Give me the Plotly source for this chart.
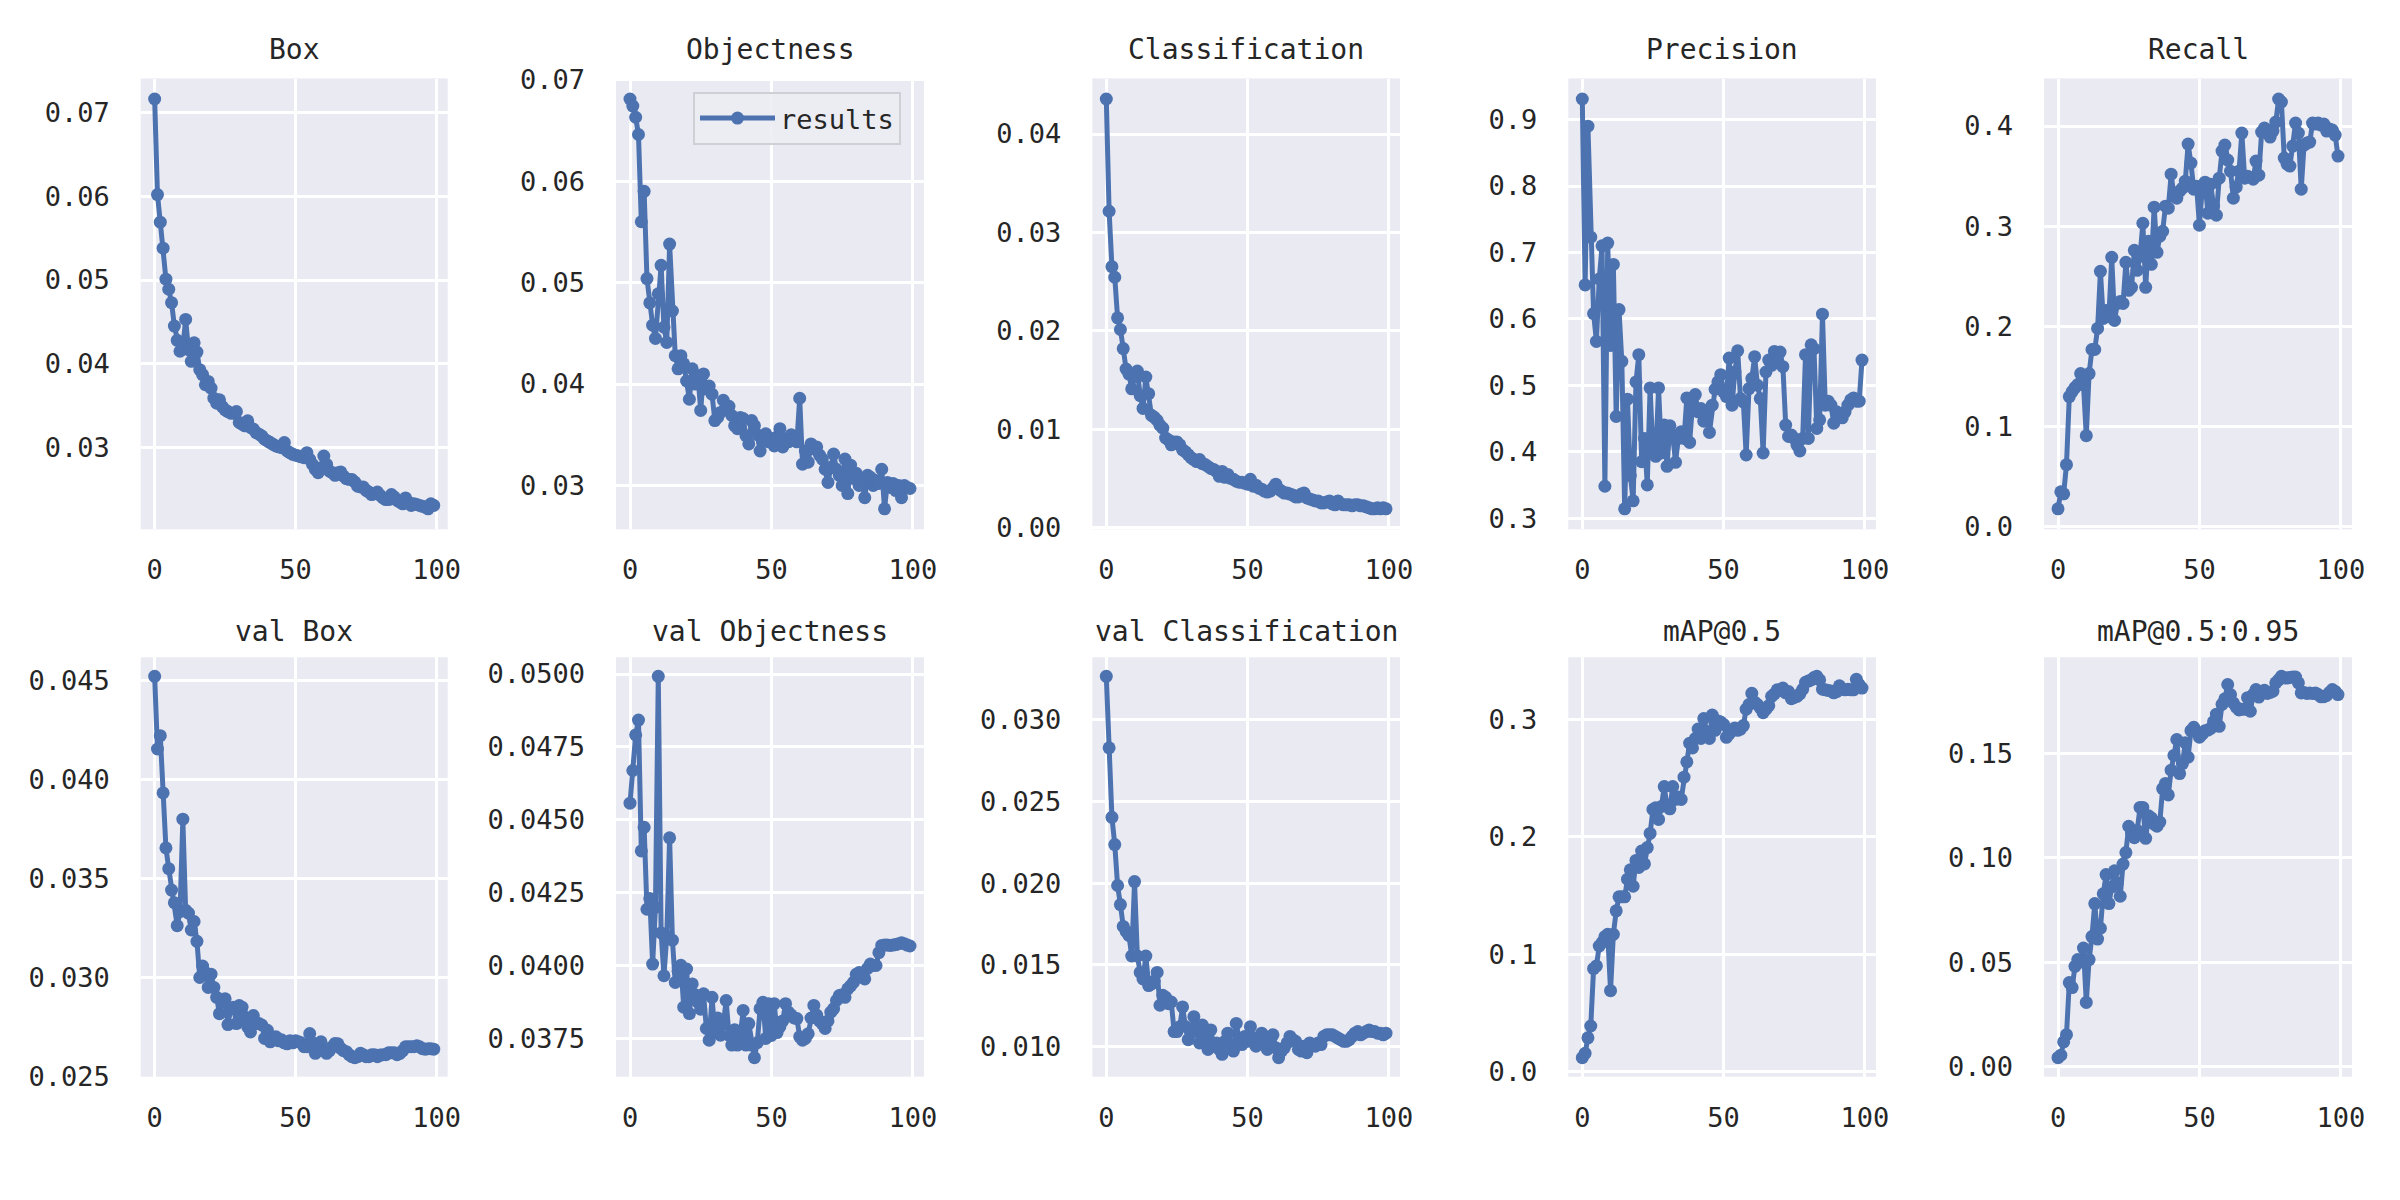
import plotly.graph_objects as go
from plotly.subplots import make_subplots

epochs = list(range(100))

box = [0.0716, 0.0602, 0.0569, 0.0538, 0.0501, 0.0489, 0.0473, 0.0445, 0.0428, 0.0415,
       0.0420, 0.0453, 0.0417, 0.0403, 0.0425, 0.0414, 0.0393, 0.0387, 0.0375, 0.0379,
       0.0371, 0.0359, 0.0353, 0.0357, 0.0349, 0.0345, 0.0343, 0.0341, 0.0341, 0.0343,
       0.0330, 0.0328, 0.0326, 0.0332, 0.0324, 0.0322, 0.0318, 0.0316, 0.0314, 0.0310,
       0.0308, 0.0306, 0.0304, 0.0302, 0.0301, 0.0300, 0.0306, 0.0296, 0.0294, 0.0292,
       0.0291, 0.0290, 0.0289, 0.0288, 0.0294, 0.0286, 0.0280, 0.0274, 0.0270, 0.0276,
       0.0290, 0.0280, 0.0272, 0.0270, 0.0267, 0.0270, 0.0271, 0.0266, 0.0263, 0.0262,
       0.0262, 0.0259, 0.0254, 0.0253, 0.0253, 0.0249, 0.0247, 0.0244, 0.0245, 0.0247,
       0.0243, 0.0240, 0.0238, 0.0238, 0.0244, 0.0241, 0.0237, 0.0235, 0.0233, 0.0240,
       0.0235, 0.0231, 0.0233, 0.0232, 0.0231, 0.0230, 0.0229, 0.0227, 0.0233, 0.0231]

objectness = [0.0681, 0.0674, 0.0663, 0.0646, 0.0560, 0.0590, 0.0504, 0.0480, 0.0458, 0.0445,
              0.0489, 0.0517, 0.0456, 0.0441, 0.0538, 0.0472, 0.0428, 0.0415, 0.0428, 0.0420,
              0.0403, 0.0385, 0.0415, 0.0400, 0.0408, 0.0374, 0.0410, 0.0395, 0.0398, 0.0390,
              0.0364, 0.0367, 0.0372, 0.0384, 0.0376, 0.0378, 0.0369, 0.0359, 0.0356, 0.0367,
              0.0366, 0.0349, 0.0341, 0.0364, 0.0359, 0.0350, 0.0334, 0.0346, 0.0351, 0.0343,
              0.0346, 0.0339, 0.0348, 0.0356, 0.0338, 0.0346, 0.0343, 0.0350, 0.0346, 0.0343,
              0.0386, 0.0321, 0.0334, 0.0323, 0.0341, 0.0336, 0.0338, 0.0330, 0.0326, 0.0316,
              0.0303, 0.0318, 0.0331, 0.0316, 0.0310, 0.0300, 0.0326, 0.0292, 0.0320, 0.0307,
              0.0312, 0.0300, 0.0306, 0.0288, 0.0310, 0.0308, 0.0300, 0.0305, 0.0302, 0.0316,
              0.0277, 0.0303, 0.0298, 0.0302, 0.0295, 0.0300, 0.0288, 0.0300, 0.0298, 0.0297]

classification = [0.04356, 0.03215, 0.02651, 0.02544, 0.02131, 0.02013, 0.01819, 0.01611, 0.0156, 0.0141,
                  0.0153, 0.0159, 0.0134, 0.0121, 0.0153, 0.0136, 0.0114, 0.0112, 0.0109, 0.0104,
                  0.0101, 0.0091, 0.0089, 0.0084, 0.0087, 0.0087, 0.0084, 0.0079, 0.0077, 0.0074,
                  0.0071, 0.0069, 0.0067, 0.0069, 0.0065, 0.0064, 0.0062, 0.0060, 0.0059, 0.0057,
                  0.0052, 0.0057, 0.0051, 0.0054, 0.0050, 0.0049, 0.0047, 0.0046, 0.0046, 0.0045,
                  0.0044, 0.0049, 0.0042, 0.0043, 0.0040, 0.0039, 0.0037, 0.0036, 0.0037, 0.0040,
                  0.0044, 0.0039, 0.0037, 0.0035, 0.0035, 0.0034, 0.0033, 0.0031, 0.0031, 0.0034,
                  0.0035, 0.0030, 0.0029, 0.0028, 0.0027, 0.0027, 0.0025, 0.0025, 0.0026, 0.0027,
                  0.0024, 0.0023, 0.0027, 0.0024, 0.0023, 0.0023, 0.0023, 0.0022, 0.0023, 0.0023,
                  0.0022, 0.0022, 0.0021, 0.0020, 0.0019, 0.0019, 0.0020, 0.0019, 0.0020, 0.0019]

precision = [0.931, 0.651, 0.890, 0.723, 0.608, 0.566, 0.660, 0.710, 0.348, 0.714,
             0.560, 0.682, 0.453, 0.614, 0.536, 0.314, 0.479, 0.364, 0.326, 0.505,
             0.546, 0.385, 0.420, 0.350, 0.496, 0.400, 0.393, 0.496, 0.398, 0.440,
             0.378, 0.439, 0.425, 0.384, 0.420, 0.430, 0.420, 0.481, 0.414, 0.470,
             0.486, 0.460, 0.465, 0.446, 0.460, 0.429, 0.470, 0.494, 0.505, 0.516,
             0.490, 0.483, 0.541, 0.470, 0.520, 0.552, 0.480, 0.475, 0.395, 0.495,
             0.510, 0.543, 0.500, 0.480, 0.398, 0.520, 0.538, 0.530, 0.551, 0.535,
             0.550, 0.528, 0.440, 0.423, 0.425, 0.420, 0.410, 0.401, 0.420, 0.546,
             0.420, 0.561, 0.555, 0.435, 0.448, 0.607, 0.470, 0.476, 0.470, 0.443,
             0.460, 0.455, 0.451, 0.460, 0.470, 0.478, 0.481, 0.476, 0.476, 0.538]

recall = [0.018, 0.035, 0.033, 0.062, 0.130, 0.135, 0.139, 0.142, 0.153, 0.142,
          0.091, 0.153, 0.177, 0.177, 0.198, 0.255, 0.208, 0.216, 0.210, 0.269,
          0.206, 0.223, 0.225, 0.223, 0.264, 0.236, 0.239, 0.276, 0.256, 0.270,
          0.303, 0.239, 0.285, 0.262, 0.319, 0.274, 0.290, 0.295, 0.320, 0.318,
          0.352, 0.330, 0.328, 0.335, 0.338, 0.345, 0.382, 0.363, 0.337, 0.340,
          0.301, 0.337, 0.344, 0.313, 0.342, 0.320, 0.311, 0.348, 0.375, 0.381,
          0.366, 0.355, 0.328, 0.339, 0.355, 0.393, 0.348, 0.350, 0.349, 0.347,
          0.365, 0.351, 0.394, 0.398, 0.396, 0.389, 0.395, 0.404, 0.427, 0.424,
          0.368, 0.362, 0.360, 0.380, 0.403, 0.393, 0.337, 0.381, 0.383, 0.384,
          0.403, 0.402, 0.403, 0.401, 0.402, 0.395, 0.397, 0.396, 0.391, 0.370]

val_box = [0.04522, 0.04155, 0.04222, 0.03933, 0.03655, 0.0355, 0.03442, 0.03378, 0.03262, 0.03333,
           0.0380, 0.0334, 0.03325, 0.0324, 0.03283, 0.03183, 0.0300, 0.03058, 0.03025, 0.0295,
           0.03017, 0.0295, 0.0290, 0.02817, 0.02875, 0.02892, 0.02762, 0.02842, 0.0285, 0.02767,
           0.02858, 0.0285, 0.0280, 0.0275, 0.02725, 0.02808, 0.02767, 0.02767, 0.0276, 0.02692,
           0.02733, 0.02675, 0.0269, 0.0270, 0.0268, 0.02685, 0.0267, 0.02665, 0.0268, 0.0267,
           0.0268, 0.02675, 0.0267, 0.0265, 0.0265, 0.02717, 0.0267, 0.02617, 0.0264, 0.02675,
           0.0263, 0.02617, 0.0263, 0.0265, 0.02667, 0.02665, 0.02642, 0.0263, 0.02625, 0.0261,
           0.0260, 0.02595, 0.0260, 0.02617, 0.0261, 0.0260, 0.0260, 0.0261, 0.0261, 0.0260,
           0.02608, 0.0261, 0.0261, 0.0262, 0.0262, 0.0262, 0.0261, 0.02617, 0.0263, 0.0265,
           0.0265, 0.0265, 0.0265, 0.02655, 0.0265, 0.0264, 0.02638, 0.0264, 0.0264, 0.02638]

val_objectness = [0.04557, 0.04669, 0.04791, 0.04842, 0.04393, 0.04474, 0.04193, 0.0423, 0.04005, 0.0420,
                  0.04992, 0.04112, 0.03965, 0.0410, 0.04438, 0.04087, 0.03942, 0.0398, 0.04001, 0.03857,
                  0.03988, 0.03835, 0.03937, 0.0390, 0.03874, 0.0385, 0.03903, 0.03784, 0.03744, 0.03891,
                  0.03773, 0.0382, 0.03761, 0.0380, 0.0388, 0.0376, 0.03727, 0.0378, 0.03727, 0.0376,
                  0.03846, 0.03727, 0.03801, 0.03727, 0.03684, 0.03735, 0.03852, 0.03874, 0.0375, 0.03869,
                  0.0376, 0.03869, 0.0377, 0.0379, 0.0381, 0.03869, 0.0384, 0.0383, 0.0382, 0.03818,
                  0.03756, 0.03744, 0.0375, 0.03766, 0.0382, 0.03863, 0.0383, 0.0381, 0.0380, 0.03784,
                  0.0381, 0.0384, 0.03852, 0.0388, 0.03897, 0.0390, 0.03891, 0.0392, 0.0393, 0.03942,
                  0.0397, 0.03976, 0.0396, 0.03954, 0.0399, 0.04005, 0.0400, 0.0400, 0.04044, 0.04069,
                  0.0407, 0.0407, 0.04069, 0.0407, 0.04072, 0.04075, 0.04078, 0.04075, 0.0407, 0.04067]

val_classification = [0.03267, 0.02829, 0.02403, 0.02236, 0.01985, 0.01868, 0.01734, 0.01704, 0.0168, 0.01553,
                      0.02009, 0.01553, 0.01452, 0.01412, 0.01553, 0.01372, 0.01382, 0.0140, 0.01452, 0.01251,
                      0.01312, 0.0130, 0.01261, 0.01271, 0.0109, 0.0109, 0.0112, 0.01241, 0.01121, 0.0104,
                      0.0108, 0.01181, 0.0112, 0.0102, 0.0113, 0.0108, 0.0098, 0.0110, 0.0100, 0.0102,
                      0.0098, 0.0095, 0.0103, 0.0108, 0.0101, 0.0097, 0.0114, 0.0104, 0.0101, 0.0106,
                      0.0103, 0.0112, 0.0105, 0.0100, 0.0104, 0.0108, 0.0103, 0.0098, 0.0102, 0.0107,
                      0.0099, 0.0093, 0.0097, 0.0099, 0.0102, 0.0106, 0.0104, 0.0103, 0.0098, 0.0097,
                      0.0100, 0.0096, 0.0102, 0.0101, 0.0100, 0.0102, 0.0101, 0.0106, 0.0107, 0.0107,
                      0.0107, 0.0106, 0.0105, 0.0104, 0.0103, 0.0103, 0.0104, 0.0106, 0.0108, 0.0109,
                      0.0107, 0.0108, 0.0109, 0.0110, 0.0109, 0.0109, 0.0108, 0.0108, 0.0107, 0.0108]

map50 = [0.0118, 0.0155, 0.0287, 0.0388, 0.0877, 0.0900, 0.1070, 0.1100, 0.1150, 0.1170,
         0.0689, 0.1170, 0.1370, 0.1490, 0.1490, 0.1490, 0.1640, 0.1720, 0.1580, 0.1800,
         0.1740, 0.1880, 0.1770, 0.1910, 0.2030, 0.2235, 0.2250, 0.2150, 0.2260, 0.2430,
         0.2260, 0.2240, 0.2430, 0.2320, 0.2340, 0.2320, 0.2510, 0.2640, 0.2800, 0.2760,
         0.2840, 0.2920, 0.2840, 0.3010, 0.2900, 0.2840, 0.3040, 0.2910, 0.2990, 0.2980,
         0.2960, 0.2850, 0.2880, 0.2910, 0.2930, 0.2910, 0.2920, 0.2950, 0.3090, 0.3130,
         0.3225, 0.3150, 0.3130, 0.3100, 0.3060, 0.3090, 0.3120, 0.3200, 0.3220, 0.3255,
         0.3250, 0.3270, 0.3230, 0.3240, 0.3180, 0.3190, 0.3200, 0.3220, 0.3260, 0.3320,
         0.3330, 0.3340, 0.3360, 0.3370, 0.3340, 0.3260, 0.3255, 0.3250, 0.3245, 0.3230,
         0.3240, 0.3290, 0.3260, 0.3255, 0.3260, 0.3255, 0.3255, 0.3345, 0.3300, 0.3270]

map50_95 = [0.0043, 0.0055, 0.0118, 0.0153, 0.0402, 0.0378, 0.0480, 0.0512, 0.0500, 0.0567,
            0.0307, 0.0512, 0.0622, 0.0780, 0.0610, 0.0662, 0.0827, 0.0919, 0.0780, 0.0860,
            0.0937, 0.0880, 0.0815, 0.0969, 0.1024, 0.1150, 0.1120, 0.1095, 0.1130, 0.1240,
            0.1240, 0.1092, 0.1200, 0.1190, 0.1160, 0.1150, 0.1170, 0.1330, 0.1355, 0.1300,
            0.1418, 0.1489, 0.1565, 0.1402, 0.1450, 0.1550, 0.1480, 0.1607, 0.1623, 0.1600,
            0.1576, 0.1590, 0.1607, 0.1610, 0.1618, 0.1650, 0.1686, 0.1628, 0.1733, 0.1760,
            0.1828, 0.1780, 0.1740, 0.1720, 0.1706, 0.1710, 0.1710, 0.1765, 0.1700, 0.1780,
            0.1804, 0.1768, 0.1790, 0.1800, 0.1785, 0.1790, 0.1796, 0.1836, 0.1850, 0.1867,
            0.1860, 0.1859, 0.1862, 0.1864, 0.1864, 0.1836, 0.1788, 0.1790, 0.1785, 0.1788,
            0.1785, 0.1788, 0.1780, 0.1769, 0.1770, 0.1776, 0.1790, 0.1804, 0.1795, 0.1780]

titles = ["Box", "Objectness", "Classification", "Precision", "Recall",
          "val Box", "val Objectness", "val Classification", "mAP@0.5", "mAP@0.5:0.95"]
series = [box, objectness, classification, precision, recall,
          val_box, val_objectness, val_classification, map50, map50_95]
y_ticks = [[0.03, 0.04, 0.05, 0.06, 0.07],
           [0.03, 0.04, 0.05, 0.06, 0.07],
           [0.00, 0.01, 0.02, 0.03, 0.04],
           [0.3, 0.4, 0.5, 0.6, 0.7, 0.8, 0.9],
           [0.0, 0.1, 0.2, 0.3, 0.4],
           [0.025, 0.030, 0.035, 0.040, 0.045],
           [0.0375, 0.0400, 0.0425, 0.0450, 0.0475, 0.0500],
           [0.010, 0.015, 0.020, 0.025, 0.030],
           [0.0, 0.1, 0.2, 0.3],
           [0.00, 0.05, 0.10, 0.15]]
y_fmt = [".2f", ".2f", ".2f", ".1f", ".1f", ".3f", ".4f", ".3f", ".1f", ".2f"]
x_ticks = [0, 50, 100]

W, H = 2400, 1200
col_px = [(140.7, 447.7), (616, 924), (1092.3, 1400), (1568.3, 1876), (2044, 2352)]
row_px = [(78.5, 529.3), (657.3, 1076.7)]
title_y_px = [50, 631]

BLUE = "#4C72B0"
TXT = "#262626"
FONT = "DejaVu Sans Mono"

fig = make_subplots(rows=2, cols=5)

for i, (name, ys) in enumerate(zip(titles, series)):
    r, c = divmod(i, 5)
    fig.add_trace(go.Scatter(
        x=epochs, y=ys, mode="lines+markers", name="results",
        line=dict(color=BLUE, width=5),
        marker=dict(color=BLUE, size=13),
        showlegend=(i == 1)), row=r + 1, col=c + 1)

    lo, hi = min(ys), max(ys)
    pad = (hi - lo) * 0.05
    n = i + 1
    xa = "xaxis" if n == 1 else f"xaxis{n}"
    ya = "yaxis" if n == 1 else f"yaxis{n}"
    x0, x1 = col_px[c]
    y0, y1 = row_px[r]
    fig.layout[xa].update(
        domain=[x0 / W, x1 / W], range=[-4.95, 103.95],
        tickvals=x_ticks, ticktext=[str(t) for t in x_ticks],
        showgrid=True, gridcolor="white", gridwidth=2.5, zeroline=False,
        showline=False, ticks="", ticklabelstandoff=22, automargin=False,
        tickfont=dict(family=FONT, size=27, color=TXT))
    fig.layout[ya].update(
        domain=[1 - y1 / H, 1 - y0 / H], range=[lo - pad, hi + pad],
        tickvals=y_ticks[i], ticktext=[format(t, y_fmt[i]) for t in y_ticks[i]],
        showgrid=True, gridcolor="white", gridwidth=2.5, zeroline=False,
        showline=False, ticks="", ticklabelstandoff=30, automargin=False,
        tickfont=dict(family=FONT, size=27, color=TXT))
    fig.add_annotation(
        text=name, xref="paper", yref="paper",
        x=(x0 + x1) / 2 / W, y=1 - title_y_px[r] / H,
        xanchor="center", yanchor="middle", showarrow=False,
        font=dict(family=FONT, size=28, color=TXT))

fig.update_layout(
    width=W, height=H,
    margin=dict(l=0, r=0, t=0, b=0, pad=0, autoexpand=False),
    paper_bgcolor="white", plot_bgcolor="#EAEAF2",
    legend=dict(x=693 / W, y=1 - 92 / H, xanchor="left", yanchor="top",
                bgcolor="rgba(236,236,243,0.9)", bordercolor="#CFCFD6", borderwidth=2,
                font=dict(family=FONT, size=27, color=TXT), itemwidth=75),
)

fig.write_html("out.html",
               config={"displayModeBar": False},
               post_script="document.body.style.margin='0px';document.body.style.padding='0px';")
